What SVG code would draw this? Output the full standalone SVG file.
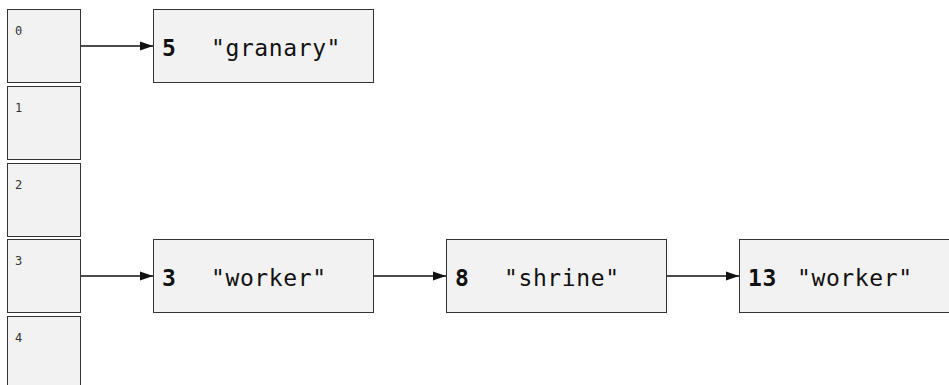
<svg xmlns="http://www.w3.org/2000/svg" width="949" height="385" viewBox="0 0 949 385">
<style>
.box{fill:#f2f2f2;stroke:#333;stroke-width:1}
.idx{font-family:"DejaVu Sans Mono",monospace;font-size:12px;fill:#333}
.num{font-family:"DejaVu Sans Mono",monospace;font-size:23px;font-weight:bold;fill:#111;letter-spacing:0.6px}
.str{font-family:"DejaVu Sans Mono",monospace;font-size:23px;fill:#111;letter-spacing:0.6px}
.conn{stroke:#111;stroke-width:1.6;fill:none;marker-end:url(#ah)}
</style>
<defs>
<marker id="ah" viewBox="0 0 13 10" refX="13" refY="5" markerWidth="13" markerHeight="10" markerUnits="userSpaceOnUse" orient="auto">
<path d="M0,0.5 L13,5 L0,9.5 z" fill="#111"/>
</marker>
</defs>
<rect width="949" height="385" fill="#fff"/>
<g id="bucket0"><rect class="box" x="7.5" y="9.5" width="73" height="73"/><text class="idx" x="15" y="35">0</text></g>
<g id="bucket1"><rect class="box" x="7.5" y="86.5" width="73" height="73"/><text class="idx" x="15" y="112">1</text></g>
<g id="bucket2"><rect class="box" x="7.5" y="163.5" width="73" height="73"/><text class="idx" x="15" y="189">2</text></g>
<g id="bucket3"><rect class="box" x="7.5" y="239.5" width="73" height="73"/><text class="idx" x="15" y="265">3</text></g>
<g id="bucket4"><rect class="box" x="7.5" y="316.5" width="73" height="73"/><text class="idx" x="15" y="342">4</text></g>
<g id="entry-granary"><rect class="box" x="153.5" y="9.5" width="220" height="73"/><text class="num" x="162" y="56">5</text><text class="str" x="211" y="56">"granary"</text></g>
<g id="entry-worker3"><rect class="box" x="153.5" y="239.5" width="220" height="73"/><text class="num" x="162" y="286">3</text><text class="str" x="211" y="286">"worker"</text></g>
<g id="entry-shrine"><rect class="box" x="446.5" y="239.5" width="220" height="73"/><text class="num" x="455" y="286">8</text><text class="str" x="504" y="286">"shrine"</text></g>
<g id="entry-worker13"><rect class="box" x="739.5" y="239.5" width="220" height="73"/><text class="num" x="748" y="286">13</text><text class="str" x="797" y="286">"worker"</text></g>
<g id="connectors">
<line class="conn" x1="81" y1="46" x2="153" y2="46"/>
<line class="conn" x1="81" y1="276" x2="153" y2="276"/>
<line class="conn" x1="374" y1="276" x2="446" y2="276"/>
<line class="conn" x1="667" y1="276" x2="739" y2="276"/>
</g>
</svg>
